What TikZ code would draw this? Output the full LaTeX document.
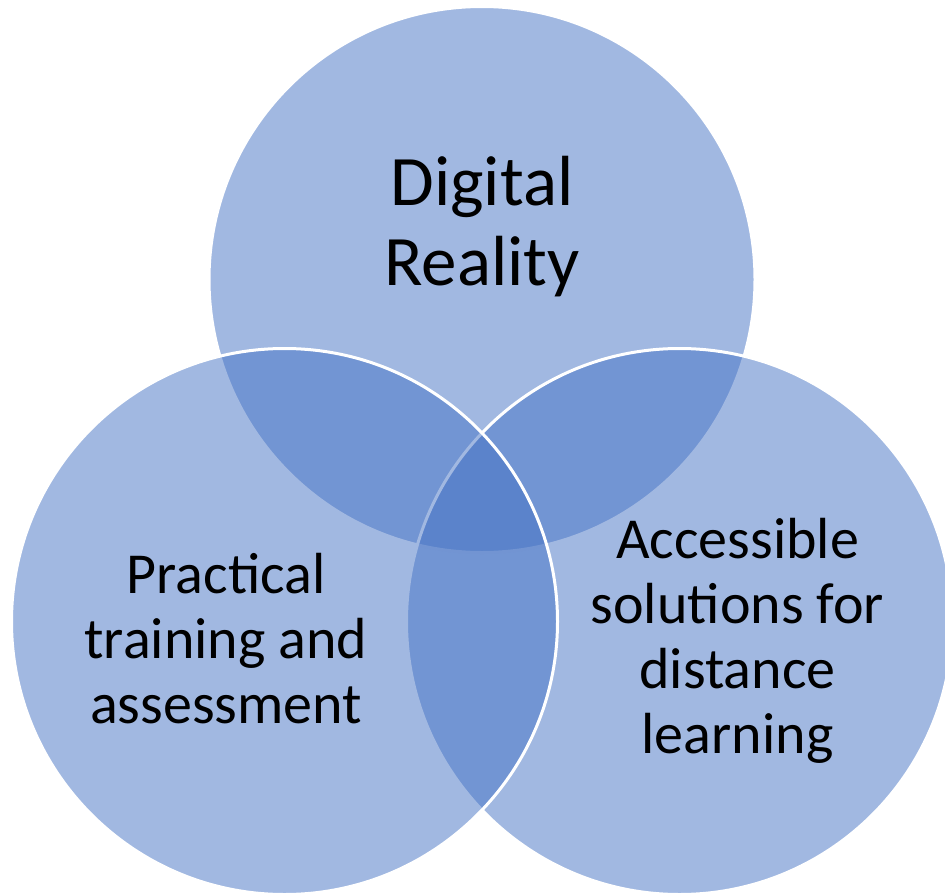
\documentclass[tikz,border=0pt]{standalone}
\usepackage{fontspec}
\setmainfont{Carlito}
\definecolor{vblue}{HTML}{4472C4}
\tikzset{
  venn/.style={fill=vblue, fill opacity=0.5, draw=white, draw opacity=1, line width=3pt},
  bigtxt/.style={text=black, align=center, font=\fontsize{71}{80}\selectfont, inner sep=0pt},
  midtxt/.style={text=black, align=center, font=\fontsize{58}{65}\selectfont, inner sep=0pt}
}
\begin{document}
\begin{tikzpicture}[x=1pt,y=-1pt]
\useasboundingbox (0,0) rectangle (945,894);
\clip (0,0) rectangle (945,894);
\coordinate (ctop) at (482,279.5);
\coordinate (cright) at (679.5,621.5);
\coordinate (cleft) at (284.5,621.5);
\path[venn] (ctop) circle[radius=273];
\path[venn] (cright) circle[radius=273];
\path[venn] (cleft) circle[radius=273];
\node[bigtxt, anchor=base] (tdr) at (482,285) {Digital\\Reality};
\node[midtxt, anchor=base] (tpt) at (226,723) {Practical\\training and\\assessment};
\node[midtxt, anchor=base] (tas) at (737.5,753) {Accessible\\solutions for\\distance\\learning};
\end{tikzpicture}
\end{document}
